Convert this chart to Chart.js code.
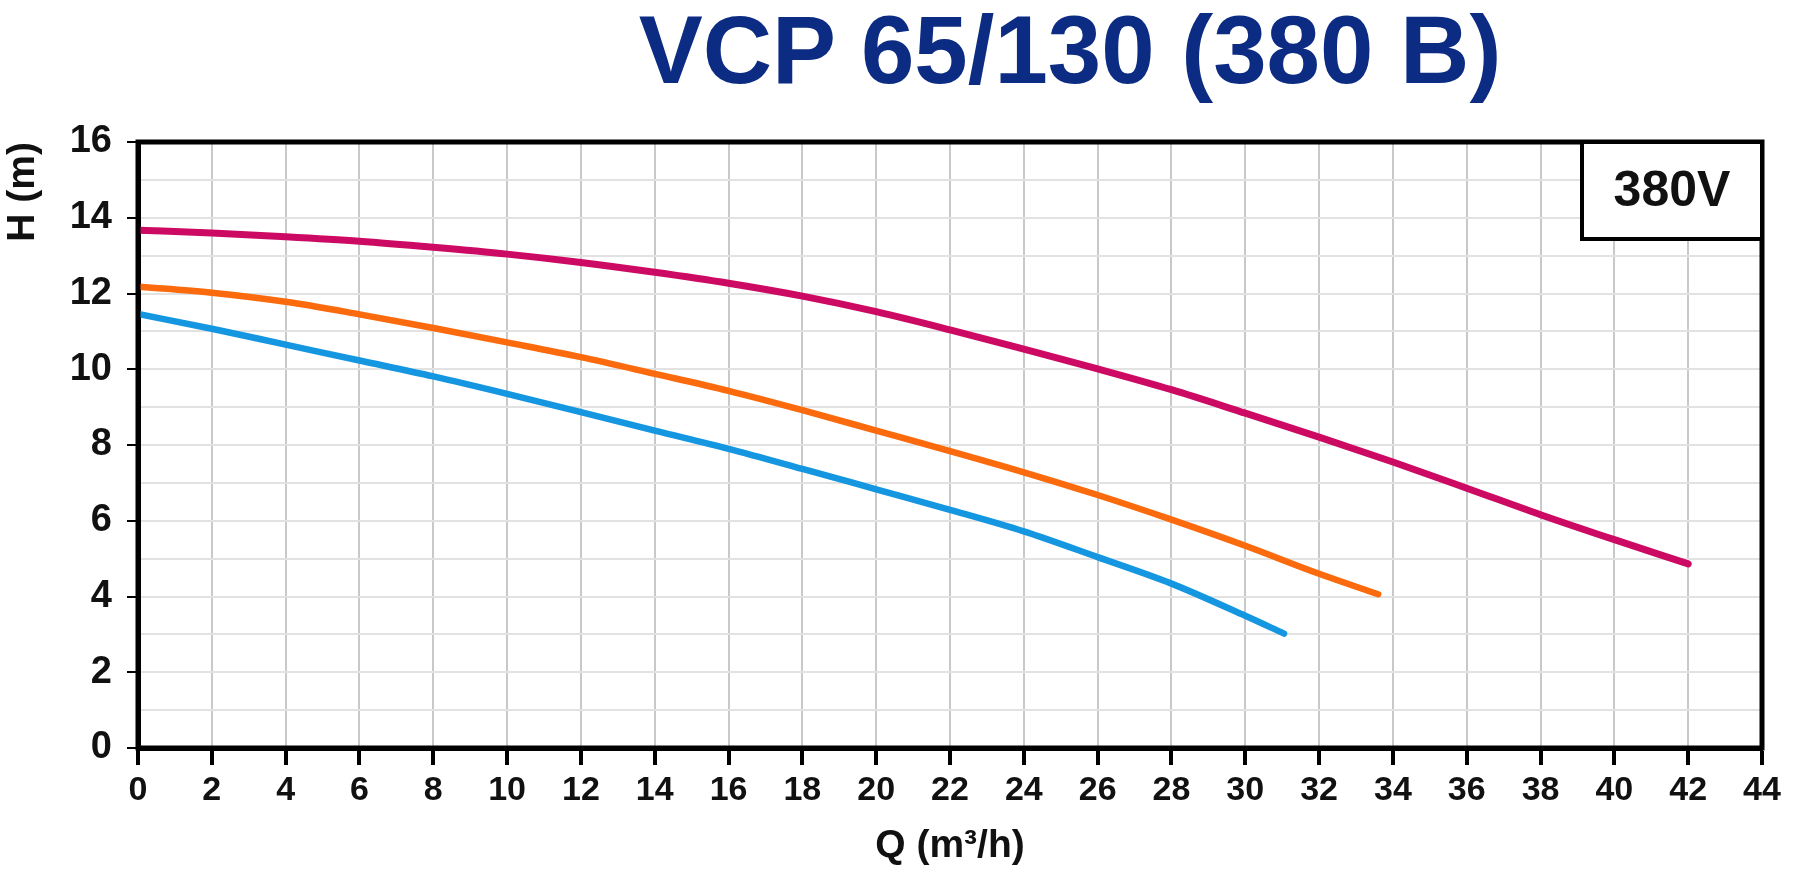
<!DOCTYPE html>
<html>
<head>
<meta charset="utf-8">
<script src="https://cdn.jsdelivr.net/npm/chart.js@4/dist/chart.umd.min.js"></script>
<style>
html,body{margin:0;padding:0;background:#fff;}
#wrap{position:relative;width:1798px;height:875px;overflow:hidden;}
#c{position:absolute;left:0;top:0;}
#title{position:absolute;top:2px;left:1070px;transform:translateX(-50%);margin:0;
  font:bold 96px "Liberation Sans",Arial,sans-serif;line-height:96px;color:#0c2c84;white-space:nowrap;}
</style>
</head>
<body>
<div id="wrap">
  <canvas id="c" width="1798" height="875"></canvas>
  <h1 id="title"></h1>
</div>
<script>
// ---- text ----
const chartTitle = 'VCP 65/130 (380 B)';
const voltageLabel = '380V';
const xAxisTitle = 'Q (m³/h)';
const yAxisTitle = 'H (m)';

// ---- tick labels ----
const xTicks = [0,2,4,6,8,10,12,14,16,18,20,22,24,26,28,30,32,34,36,38,40,42,44];
const yTicks = [0,2,4,6,8,10,12,14,16];
const yGridLines = [0,1,2,3,4,5,6,7,8,9,10,11,12,13,14,15,16];

// ---- series (Q in m3/h, H in m) ----
const qMagenta = [0,2,4,6,8,10,12,14,16,18,20,22,24,26,28,30,32,34,36,38,40,42];
const hMagenta = [13.67,13.60,13.50,13.38,13.22,13.04,12.82,12.56,12.27,11.93,11.52,11.04,10.53,10.01,9.46,8.84,8.21,7.55,6.86,6.16,5.50,4.86];

const qOrange = [0,2,4,6,8,10,12,14,16,18,20,22,24,26,28,30,32,33.6];
const hOrange = [12.18,12.02,11.78,11.45,11.09,10.71,10.32,9.88,9.43,8.92,8.38,7.84,7.28,6.68,6.03,5.34,4.60,4.06];

const qBlue = [0,2,4,6,8,10,12,14,16,18,20,22,24,26,28,30,31.05];
const hBlue = [11.46,11.07,10.65,10.23,9.81,9.35,8.87,8.38,7.90,7.37,6.83,6.29,5.72,5.04,4.34,3.49,3.02];

document.getElementById('title').textContent = chartTitle;

const FONT = '"Liberation Sans", Arial, sans-serif';
Chart.defaults.font.family = FONT;
Chart.defaults.color = '#111';

const pts = (qs, hs) => qs.map((q, i) => ({x: q, y: hs[i]}));

const framePlugin = {
  id: 'frame',
  afterDatasetsDraw(chart) {
    const {ctx, chartArea: a} = chart;
    ctx.save();
    ctx.strokeStyle = '#000';
    ctx.lineWidth = 5;
    ctx.strokeRect(a.left, a.top, a.right - a.left, a.bottom - a.top);
    const bw = 180, bh = 97;
    ctx.fillStyle = '#fff';
    ctx.fillRect(a.right - bw, a.top, bw, bh);
    ctx.lineWidth = 4;
    ctx.strokeRect(a.right - bw, a.top, bw, bh);
    ctx.fillStyle = '#111';
    ctx.font = 'bold 50px ' + FONT;
    ctx.textAlign = 'center';
    ctx.textBaseline = 'middle';
    ctx.fillText(voltageLabel, a.right - bw / 2, a.top + bh / 2 + 2);
    ctx.restore();
  }
};

const lineStyle = (color, w) => ({
  borderColor: color, backgroundColor: color, borderWidth: w,
  pointRadius: 0, fill: false, cubicInterpolationMode: 'monotone',
  borderCapStyle: 'round', borderJoinStyle: 'round'
});

new Chart(document.getElementById('c'), {
  type: 'line',
  data: {
    datasets: [
      Object.assign({label: 'magenta', data: pts(qMagenta, hMagenta)}, lineStyle('#cc0a63', 7)),
      Object.assign({label: 'orange', data: pts(qOrange, hOrange)}, lineStyle('#fb6a0c', 6.5)),
      Object.assign({label: 'blue', data: pts(qBlue, hBlue)}, lineStyle('#1496e0', 6.5))
    ]
  },
  options: {
    responsive: false,
    animation: false,
    layout: {padding: {top: 142, right: 36, left: 0, bottom: 0}},
    plugins: {legend: {display: false}, tooltip: {enabled: false}},
    scales: {
      x: {
        type: 'linear', min: 0, max: 44,
        afterBuildTicks: s => { s.ticks = xTicks.map(v => ({value: v})); },
        afterFit: s => { s.height = 127; },
        ticks: {autoSkip: false, maxRotation: 0, padding: 5, color: '#111',
                font: {size: 34, weight: 'bold'}},
        grid: {color: '#c9c9c9', lineWidth: 2, tickLength: 17, tickWidth: 4, tickColor: '#000'},
        border: {color: '#000', width: 5},
        title: {display: true, text: xAxisTitle, color: '#111',
                font: {size: 39, weight: 'bold'}, padding: {top: 0, bottom: 5}}
      },
      y: {
        type: 'linear', min: 0, max: 16,
        afterBuildTicks: s => { s.ticks = yGridLines.map(v => ({value: v})); },
        afterFit: s => { s.width = 138; },
        ticks: {autoSkip: false, padding: 15, color: '#111',
                font: {size: 38, weight: 'bold'},
                callback: v => yTicks.includes(v) ? String(v) : ''},
        grid: {color: '#e2e2e2', lineWidth: 2, tickLength: 11, tickWidth: 2,
               tickColor: c => yTicks.includes(c.tick.value) ? '#000' : 'rgba(0,0,0,0)'},
        border: {color: '#000', width: 5},
        title: {display: true, text: yAxisTitle, align: 'end', color: '#111',
                font: {size: 39, weight: 'bold'}, padding: {top: 0, bottom: 0}}
      }
    }
  },
  plugins: [framePlugin]
});
</script>
</body>
</html>
